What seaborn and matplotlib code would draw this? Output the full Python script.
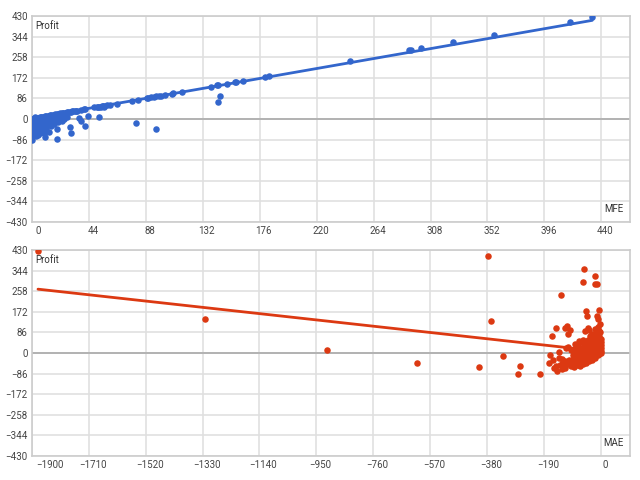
import numpy as np
import pandas as pd
import matplotlib
matplotlib.use('Agg')
import matplotlib.pyplot as plt
import matplotlib.transforms as mtransforms
import seaborn as sns

# MFE vs Profit (top panel)
mfe = [0, 1, 2, 3, 4, 5, 6, 7, 8, 9, 10, 11, 12, 13, 14, 15, 16, 17, 18, 19,
       20, 21, 22, 23, 24, 25, 26, 27, 28, 29, 30, 31, 32, 33, 34, 35, 38, 40, 41,
       48, 50, 51, 52, 53, 54, 55, 56, 58, 60, 66, 77, 82, 89, 90, 92, 94, 96, 98,
       100, 103, 108, 109, 116, 138, 143, 144, 151, 157, 158, 163, 180, 183,
       246, 291, 293, 301, 325, 357, 416, 433,
       0, 1, 1, 1, 2, 2, 3, 3, 4, 4, 5, 5, 6, 6, 7, 7, 8, 8, 9, 9, 10, 10,
       11, 11, 12, 12, 13, 13, 14, 15, 15, 16, 17, 18, 19, 19, 20, 21, 22, 23,
       24, 25, 27, 29, 30, 36, 38, 41, 43, 52, 56, 80, 96, 144, 145,
       0, 1, 2, 3, 4, 5, 6, 7, 8, 9, 2, 4, 6, 8, 10, 3, 5, 7]
mfe_profit = [0, 2, 3, 4, 5, 6, 7, 8, 9, 10, 11, 12, 13, 14, 15, 16, 17, 18, 19, 20,
              21, 22, 23, 24, 25, 26, 27, 28, 29, 30, 31, 32, 33, 33, 34, 35, 38, 40, 41,
              48, 50, 51, 52, 52, 54, 55, 56, 58, 60, 64, 76, 80, 88, 89, 91, 92, 94, 96,
              98, 100, 106, 107, 114, 135, 140, 142, 148, 154, 155, 160, 176, 180,
              242, 287, 288, 295, 320, 352, 405, 427,
              -86, -60, -40, -20, -50, -10, -30, -55, -15, -45, -25, -5, -38, -60, -12, -30,
              -48, -2, -20, -35, -75, -8, -42, -15, -25, 0, -55, -5, -18, -30, 3, -10, -22,
              -4, -84, -43, -12, -2, 5, -8, 8, 2, 10, -32, -57, 3, -8, -29, 13, 10, 48,
              -15, -43, 70, 97,
              -30, -65, -35, -70, -62, -45, -20, -52, -28, -58, 8, -2, 2, -38, -50, 0, -68, -48]
# linear trendline: slope, intercept
mfe_trend = [0.944, 3]

# MAE vs Profit (bottom panel)
mae = [-1880, -1321, -916, -615, -406, -378, -365, -328, -270, -278, -204, -134,
       -55, -60, -19, -19, -12, -48, -45, -6, -12, -8, -149, -164, -120, -112, -101,
       -108, -170, -172, -150, -145, -120, -115, -110, -72, -53, -42, -40, -10, -4,
       -100, -95, -92, -90, -88, -85, -82, -80, -78, -75, -72, -70, -68, -66, -64,
       -62, -60, -58, -56, -55, -53, -52, -50, -48, -46, -45, -44, -42, -40, -39,
       -38, -36, -35, -34, -33, -32, -30, -29, -28, -27, -26, -25, -24, -23, -22,
       -21, -20, -19, -18, -17, -16, -15, -14, -13, -12, -11, -10, -9, -8, -7, -6,
       -5, -4, -3, -2, -1, 0, 0, 1, 2, 2, -60, -65, -75, -82, -88, -95, -105, -110,
       -125, -130, -135, -100, -90, -80, -70, -60, -50, -40, -30, -20, -10, -5,
       -25, -15, -5, -30, -20, -10, -3, -8, -45, -35, -25, -15, -5, 0, -2, -18,
       -28, -38, -48, -58, -68, -78,
       -160, -140, -130, -118, -138, -155, -128, -98, -85, -76]
mae_profit = [427, 141, 12, -43, -57, 406, 132, -14, -54, -86, -86, 242,
              351, 296, 321, 288, 288, 177, 154, 181, 154, 142, 106, 72, 103, 114, 96,
              79, -8, -43, -54, -75, -64, 20, 27, 51, 93, 103, 96, 96, 86,
              -40, -30, -10, -45, 5, -25, -38, -15, 10, -30, -5, -42, 20, -20, -35,
              0, 15, -25, 30, -10, -30, 40, 5, -20, 25, -12, 55, -25, 10, 35,
              -5, 70, -18, 20, 45, 0, -15, 60, 12, 30, -8, 50, 5, -12, 25,
              40, 0, 65, 15, -6, 35, 8, 55, -3, 22, 45, 2, 30, 12, 70, -2,
              40, 18, 55, 5, 28, 10, 45, 0, 20, 60, 55, 45, 30, 25, -20, -48, -30, -45,
              -40, -25, -50, -55, -58, -50, -55, -45, -40, -35, -28, -20, -10, -5,
              75, 80, 90, 80, 100, 110, 120, 65, 15, 5, 12, 30, 22, 35, 50, 40,
              45, 20, 10, -5, 0, -12,
              -30, -20, -48, -35, 5, -62, -68, 12, 38, -18]
mae_trend = [-0.138, 7]

blue = '#3366CC'
red = '#DC3912'
yticks = [-430, -344, -258, -172, -86, 0, 86, 172, 258, 344, 430]
top_xticks = [0, 44, 88, 132, 176, 220, 264, 308, 352, 396, 440]
bot_xticks = [-1900, -1710, -1520, -1330, -1140, -950, -760, -570, -380, -190, 0]

df_top = pd.DataFrame({'MFE': mfe, 'Profit': mfe_profit})
df_bot = pd.DataFrame({'MAE': mae, 'Profit': mae_profit})

sns.set_theme(style='white')
plt.rcParams['font.family'] = ['Roboto', 'DejaVu Sans']

fig = plt.figure(figsize=(6.4, 4.8), dpi=100)
ax1 = fig.add_axes([0.05, 0.5375, 0.934, 0.4292])
ax2 = fig.add_axes([0.05, 0.05, 0.934, 0.4292])


def style_axis(ax, xticks, xlim, xname):
    ax.set_xlim(xlim)
    ax.set_ylim(-430, 430)
    ax.set_xticks(xticks)
    ax.set_yticks(yticks)
    ax.grid(True, color='#e0e0e0', lw=1.2)
    ax.set_axisbelow(True)
    ax.axhline(0, color='#aaaaaa', lw=1.2, zorder=1)
    for s in ax.spines.values():
        s.set_color('#cccccc')
        s.set_linewidth(1.2)
    ax.tick_params(length=0, labelsize=7, colors='#444444', pad=3)
    # google-style labels sit a bit to the right of the gridline
    shift = mtransforms.ScaledTranslation(4 / 100, 0, fig.dpi_scale_trans)
    for lab in ax.get_xticklabels():
        lab.set_transform(lab.get_transform() + shift)
    ax.get_xticklabels()[0].set_ha('left')
    ax.set_xlabel('')
    ax.set_ylabel('')
    ax.text(0.006, 0.95, 'Profit', transform=ax.transAxes, fontsize=7,
            color='#333333', ha='left', va='center')
    ax.text(0.99, 0.065, xname, transform=ax.transAxes, fontsize=7,
            color='#333333', ha='right', va='center')


def trend(ax, xs, coef, color):
    tx = [min(xs), max(xs)]
    ty = [coef[0] * v + coef[1] for v in tx]
    sns.lineplot(x=tx, y=ty, ax=ax, color=color, lw=2, zorder=4)


sns.scatterplot(data=df_top, x='MFE', y='Profit', ax=ax1, color=blue,
                s=22, linewidth=0, zorder=3)
trend(ax1, mfe, mfe_trend, blue)
style_axis(ax1, top_xticks, (0, 462), 'MFE')

sns.scatterplot(data=df_bot, x='MAE', y='Profit', ax=ax2, color=red,
                s=22, linewidth=0, zorder=3)
trend(ax2, mae, mae_trend, red)
style_axis(ax2, bot_xticks, (-1900, 97), 'MAE')

fig.savefig('out.png', dpi=100)
